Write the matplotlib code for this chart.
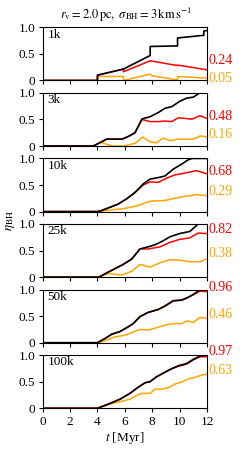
import numpy as np
import matplotlib
matplotlib.use("Agg")
import matplotlib.pyplot as plt

plt.rcParams['font.family'] = ['Liberation Serif', 'DejaVu Serif']
plt.rcParams['mathtext.fontset'] = 'stix'
plt.rcParams['font.size'] = 9.5

# ---- data ----
names = ['1k', '3k', '10k', '25k', '50k', '100k']

# 1k (step-like)
t_1k_k = [0, 4, 4, 5.9, 7.85, 7.85, 9.85, 9.85, 11.77, 11.77, 12]
blk_1k = [0, 0, 0.10, 0.215, 0.47, 0.64, 0.65, 0.80, 0.85, 0.93, 0.94]
t_1k_r = [0, 4, 4, 5.9, 5.9, 7.85, 9.85, 9.85, 12]
red_1k = [0, 0, 0.10, 0.215, 0.165, 0.37, 0.28, 0.29, 0.20]
t_1k_o = [0, 4, 4, 5.9, 5.9, 7.85, 7.95, 9.85, 9.85, 12]
org_1k = [0, 0, 0.075, 0.075, 0.0, 0.12, 0.09, 0.01, 0.075, 0.045]

# 3k
t_3k_k = [0, 3.7, 4.67, 5.8, 6.25, 6.74, 7.25, 7.83, 8.44, 8.93, 9.42, 10.0, 10.5, 11.0, 11.48, 12]
blk_3k = [0, 0, 0.13, 0.13, 0.18, 0.25, 0.51, 0.55, 0.63, 0.71, 0.74, 0.84, 0.90, 0.92, 1.0, 1.0]
t_3k_r = [0, 3.7, 4.67, 5.8, 6.25, 6.74, 7.25, 7.83, 8.44, 8.93, 9.42, 9.9, 10.4, 10.9, 11.48, 12]
red_3k = [0, 0, 0.13, 0.13, 0.18, 0.25, 0.50, 0.46, 0.46, 0.47, 0.46, 0.53, 0.52, 0.505, 0.57, 0.52]
t_3k_o = [0, 3.7, 4.2, 5.1, 5.9, 6.74, 7.3, 7.83, 8.3, 8.8, 9.3, 9.9, 10.4, 11.0, 11.5, 12]
org_3k = [0, 0, 0.07, 0.0, 0.0, 0.05, 0.17, 0.08, 0.06, 0.15, 0.10, 0.13, 0.13, 0.13, 0.19, 0.17]

# 10k
t_10k = [0, 4, 4.3, 4.9, 5.5, 6.13, 6.74, 7.34, 7.83, 8.44, 8.93, 9.54, 10.14, 10.6, 10.9, 11.24, 12]
blk_10k = [0, 0, 0.02, 0.08, 0.14, 0.24, 0.36, 0.52, 0.61, 0.64, 0.67, 0.80, 0.89, 0.97, 1.0, 1.0, 1.0]
t_10k_r = [0, 4, 4.3, 4.9, 5.5, 6.13, 6.74, 7.34, 7.83, 8.44, 9.05, 9.66, 10.26, 11.24, 12]
red_10k = [0, 0, 0.02, 0.08, 0.14, 0.24, 0.36, 0.50, 0.56, 0.55, 0.63, 0.69, 0.72, 0.77, 0.71]
t_10k_o = [0, 4, 5.0, 6.0, 6.9, 7.83, 8.93, 10.0, 11.24, 12]
org_10k = [0, 0, 0.03, 0.06, 0.11, 0.195, 0.21, 0.27, 0.32, 0.30]

# 25k
t_25k = [0, 4.1, 4.67, 5.28, 5.88, 6.5, 7.1, 7.7, 8.2, 8.7, 9.3, 10.0, 10.75, 11.36, 12]
blk_25k = [0, 0, 0.08, 0.16, 0.24, 0.34, 0.53, 0.57, 0.61, 0.67, 0.76, 0.82, 0.86, 1.0, 1.0]
t_25k_r = [0, 4.1, 4.67, 5.28, 5.88, 6.5, 7.1, 7.7, 8.56, 9.3, 10.0, 10.75, 11.36, 12]
red_25k = [0, 0, 0.08, 0.16, 0.24, 0.34, 0.53, 0.53, 0.57, 0.655, 0.71, 0.74, 0.83, 0.82]
t_25k_o = [0, 4.1, 4.8, 5.76, 6.5, 7.1, 7.83, 8.56, 9.3, 10.0, 10.75, 11.48, 12]
org_25k = [0, 0, 0.07, 0.04, 0.11, 0.24, 0.19, 0.27, 0.33, 0.32, 0.29, 0.29, 0.345]

# 50k
t_50k = [0, 4, 4.55, 5.04, 5.64, 6.25, 6.61, 7.1, 7.7, 8.44, 8.93, 9.54, 10.14, 10.6, 11.0, 11.48, 12]
blk_50k = [0, 0, 0.08, 0.16, 0.21, 0.30, 0.36, 0.49, 0.57, 0.625, 0.69, 0.79, 0.80, 0.85, 0.91, 0.99, 1.0]
red_50k = [0, 0, 0.08, 0.16, 0.21, 0.30, 0.36, 0.49, 0.57, 0.625, 0.69, 0.79, 0.80, 0.85, 0.90, 0.97, 0.96]
t_50k_o = [0, 4, 4.67, 5.28, 6.0, 6.5, 7.1, 7.7, 8.3, 8.93, 9.54, 10.14, 10.56, 11.0, 11.48, 12]
org_50k = [0, 0, 0.05, 0.11, 0.14, 0.19, 0.25, 0.24, 0.28, 0.33, 0.36, 0.36, 0.41, 0.38, 0.475, 0.46]

# 100k
t_100k = [0, 4, 4.9, 5.64, 6.37, 6.86, 7.47, 7.83, 8.3, 8.8, 9.3, 9.9, 10.5, 11.0, 11.48, 12]
blk_100k = [0, 0, 0.09, 0.17, 0.28, 0.375, 0.48, 0.50, 0.59, 0.66, 0.73, 0.80, 0.84, 0.92, 0.98, 1.0]
red_100k = [0, 0, 0.09, 0.17, 0.28, 0.375, 0.48, 0.50, 0.59, 0.66, 0.73, 0.79, 0.83, 0.91, 0.97, 0.97]
t_100k_o = [0, 4, 4.9, 5.64, 6.37, 6.86, 7.2, 7.83, 8.2, 8.7, 9.2, 9.78, 10.14, 10.6, 11.1, 11.6, 12]
org_100k = [0, 0, 0.08, 0.125, 0.17, 0.24, 0.28, 0.28, 0.36, 0.36, 0.39, 0.47, 0.49, 0.55, 0.58, 0.625, 0.64]

red_lab = ['0.24', '0.48', '0.68', '0.82', '0.96', '0.97']
org_lab = ['0.05', '0.16', '0.29', '0.38', '0.46', '0.63']

panels = [
    (t_1k_k, blk_1k, t_1k_r, red_1k, t_1k_o, org_1k),
    (t_3k_k, blk_3k, t_3k_r, red_3k, t_3k_o, org_3k),
    (t_10k, blk_10k, t_10k_r, red_10k, t_10k_o, org_10k),
    (t_25k, blk_25k, t_25k_r, red_25k, t_25k_o, org_25k),
    (t_50k, blk_50k, t_50k, red_50k, t_50k_o, org_50k),
    (t_100k, blk_100k, t_100k, red_100k, t_100k_o, org_100k),
]
# where the numbers on the right sit (axes data units)
red_lab_y = [0.38, 0.55, 0.745, 0.89, 1.04, 1.06]
org_lab_y = [0.035, 0.225, 0.375, 0.44, 0.53, 0.705]

fig, axes = plt.subplots(6, 1, figsize=(2.4, 4.5), dpi=100, sharex=True)
fig.subplots_adjust(left=0.178, right=0.8625, top=0.9393, bottom=0.0927, hspace=0.233)

for i, ax in enumerate(axes):
    tk, bk, tr, rd, to, og = panels[i]
    ax.plot(to, og, color='orange', lw=1.1)
    ax.plot(tr, rd, color='red', lw=1.1)
    ax.plot(tk, bk, color='black', lw=1.2)
    ax.set_xlim(0, 12)
    ax.set_ylim(0, 1.0)
    ax.set_yticks([0, 0.5, 1.0])
    ax.set_yticklabels(['0', '0.5', '1.0'])
    ax.set_xticks(np.arange(0, 13, 2))
    ax.tick_params(direction='out', length=3, width=0.8, pad=2.5)
    ax.text(0.03, 0.975, names[i], transform=ax.transAxes, ha='left', va='top')
    ax.text(1.012, red_lab_y[i], red_lab[i], color='red', fontsize=10,
            transform=ax.get_yaxis_transform(), ha='left', va='center', clip_on=False)
    ax.text(1.012, org_lab_y[i], org_lab[i], color='orange', fontsize=10,
            transform=ax.get_yaxis_transform(), ha='left', va='center', clip_on=False)

axes[-1].set_xlabel(r'$t$ [Myr]', labelpad=1.5)
fig.text(0.045, 0.51, r'$\eta_\mathrm{BH}$', rotation=90, ha='center', va='center')
fig.suptitle(r'$r_\mathrm{v}=2.0\,\mathrm{pc},\ \sigma_\mathrm{BH}=3\,\mathrm{km\,s^{-1}}$',
             x=0.525, y=0.987, fontsize=9)

fig.savefig('out.png', dpi=100)
